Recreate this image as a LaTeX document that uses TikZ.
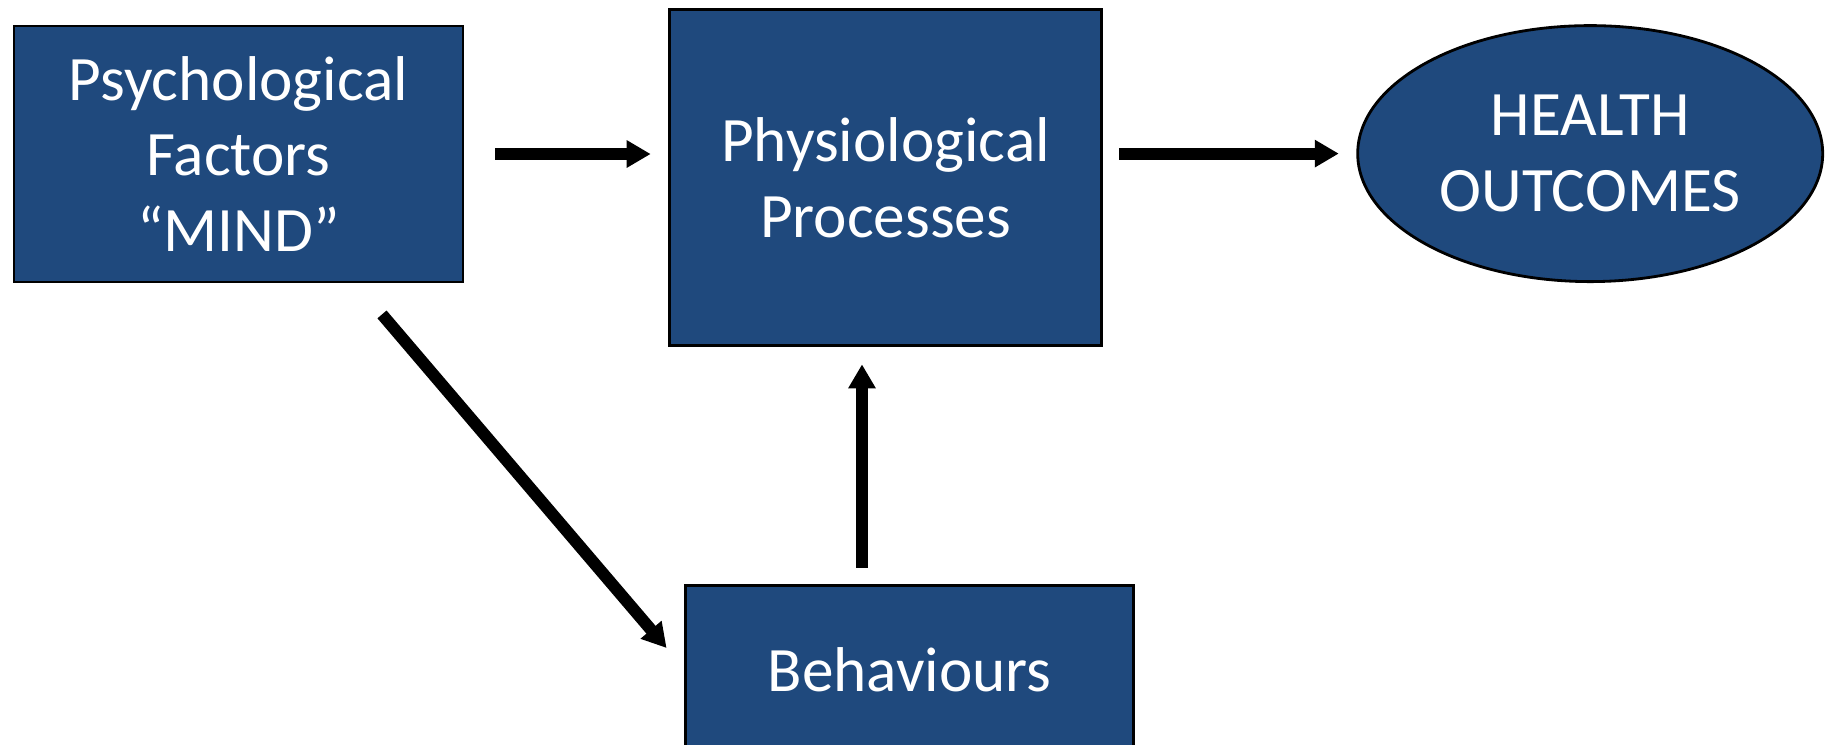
\documentclass[tikz,border=0pt]{standalone}
\usepackage{fontspec}
\setmainfont{Carlito}
\usetikzlibrary{arrows.meta,shapes.geometric}

\definecolor{boxblue}{HTML}{1F497D}

\tikzset{
  block/.style={draw=black, line width=0.8pt, fill=boxblue, text=white,
    align=center, inner sep=0pt, font=\fontsize{18}{21.6}\selectfont},
  link/.style={line width=0.12cm, -{Triangle[length=0.24cm,width=0.26cm]}}
}

\begin{document}
\begin{tikzpicture}
\useasboundingbox (0,0) rectangle (18.32,-7.44);
\node[block, minimum width=4.49cm, minimum height=2.56cm] (psych) at (2.385,-1.54) {Psychological\\Factors\\“MIND”};
\node[block, minimum width=4.32cm, minimum height=3.365cm] (physio) at (8.856,-1.775) {Physiological\\Processes};
\node[block, ellipse, minimum width=4.65cm, minimum height=2.56cm] (health) at (15.902,-1.536) {HEALTH\\OUTCOMES};
\node[block, minimum width=4.476cm, minimum height=1.682cm] (behav) at (9.096,-6.695) {Behaviours};
% arrows
\draw[link, shorten <=0.31cm, shorten >=0.175cm] (psych.east) -- (psych.east -| physio.west);
\draw[link, shorten <=0.16cm, shorten >=0.175cm] (health.west -| physio.east) -- (health.west);
\coordinate (up) at ([xshift=-0.476cm]behav.north);
\draw[link, shorten <=0.164cm, shorten >=0.172cm] (up) -- (up |- physio.south);
\coordinate (m1) at ([xshift=1.435cm,yshift=-0.31cm]psych.south);
\coordinate (m2) at ([xshift=-0.178cm,yshift=0.215cm]behav.west);
\draw[link] (m1) -- (m2);
\end{tikzpicture}
\end{document}
